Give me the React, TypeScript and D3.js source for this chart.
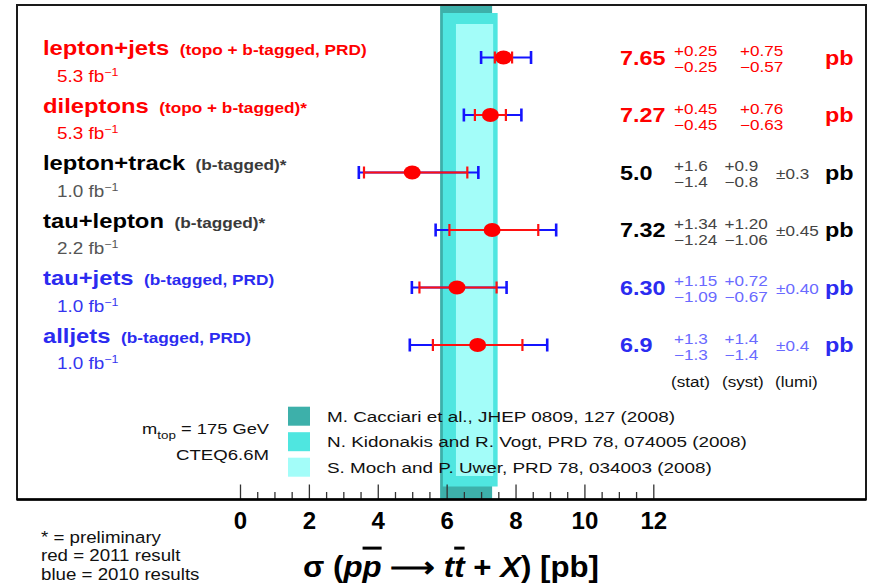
import { useEffect, useRef } from "react";
import * as d3 from "d3";

// channels, top to bottom
const channels = ["lepton+jets", "dileptons", "lepton+track", "tau+lepton", "tau+jets", "alljets"];
const channelNotes = [
  "(topo + b-tagged, PRD)",
  "(topo + b-tagged)*",
  "(b-tagged)*",
  "(b-tagged)*",
  "(b-tagged, PRD)",
  "(b-tagged, PRD)",
];
const lumis = ["5.3", "5.3", "1.0", "2.2", "1.0", "1.0"];
const release = ["2011", "2011", "other", "other", "2010", "2010"];

// measured cross sections [pb]
const xsec = [7.65, 7.27, 5.0, 7.32, 6.3, 6.9];
const xsecLabels = ["7.65", "7.27", "5.0", "7.32", "6.30", "6.9"];
const statUp = [0.25, 0.45, 1.6, 1.34, 1.15, 1.3];
const statDown = [0.25, 0.45, 1.4, 1.24, 1.09, 1.3];
const statUpLabels = ["0.25", "0.45", "1.6", "1.34", "1.15", "1.3"];
const statDownLabels = ["0.25", "0.45", "1.4", "1.24", "1.09", "1.3"];
const systUpLabels = ["0.75", "0.76", "0.9", "1.20", "0.72", "1.4"];
const systDownLabels = ["0.57", "0.63", "0.8", "1.06", "0.67", "1.4"];
const lumiLabels = ["", "", "0.3", "0.45", "0.40", "0.4"];
// total uncertainty bar ends
const totalLo = [7.0, 6.5, 3.45, 5.68, 4.99, 4.93];
const totalHi = [8.45, 8.17, 6.92, 9.18, 7.74, 8.92];

// theory predictions
const theoryLabels = [
  "M. Cacciari et al., JHEP 0809, 127 (2008)",
  "N. Kidonakis and R. Vogt, PRD 78, 074005 (2008)",
  "S. Moch and P. Uwer, PRD 78, 034003 (2008)",
];
const theoryLo = [5.81, 5.89, 6.27];
const theoryHi = [7.32, 7.48, 7.35];

const majorTicks = [0, 2, 4, 6, 8, 10, 12];
const minorTicks = [0.5, 1, 1.5, 2.5, 3, 3.5, 4.5, 5, 5.5, 6.5, 7, 7.5, 8.5, 9, 9.5, 10.5, 11, 11.5];

const notes = ["* = preliminary", "red = 2011 result", "blue = 2010 results"];

const palette = {
  "2011": { main: "#ff0000", note: "#ff0000", lumi: "#ff0000", small: "#ff0000" },
  other: { main: "#000000", note: "#3a3a3a", lumi: "#555555", small: "#444444" },
  "2010": { main: "#2b2bf0", note: "#2b2bf0", lumi: "#3535f0", small: "#6a6aff" },
};
const bandColors = ["#3db0aa", "#4fe6e0", "#a3fdf9"];

export default function App() {
  const svgRef = useRef<SVGSVGElement>(null);

  useEffect(() => {
    const svg = d3.select(svgRef.current);
    svg.selectAll("*").remove();

    const frame = { left: 17, top: 5, right: 866, bottom: 499.5 };
    const font = "'Liberation Sans', Arial, Helvetica, sans-serif";

    const x = d3.scaleLinear().domain([0, 12]).range([240, 653.3]);
    const y = d3.scalePoint<string>().domain(channels).range([57.5, 345]);

    const addText = (
      g: any,
      px: number,
      py: number,
      str: string,
      size: number,
      weight: string,
      fill: string,
      sx: number,
      anchor = "start"
    ) =>
      g
        .append("text")
        .attr("transform", `translate(${px},${py}) scale(${sx},1)`)
        .attr("font-family", font)
        .attr("font-size", size)
        .attr("font-weight", weight)
        .attr("fill", fill)
        .attr("text-anchor", anchor)
        .text(str);

    // white background
    svg.append("rect").attr("width", 877).attr("height", 584).attr("fill", "#fff");

    // theory bands
    const insets = [
      { top: 0, bottom: 0 },
      { top: 8, bottom: 13 },
      { top: 19, bottom: 23.5 },
    ];
    theoryLo.forEach((lo, i) => {
      svg
        .append("rect")
        .attr("x", x(lo))
        .attr("width", x(theoryHi[i]) - x(lo))
        .attr("y", frame.top + insets[i].top)
        .attr("height", frame.bottom - insets[i].bottom - frame.top - insets[i].top)
        .attr("fill", bandColors[i]);
    });

    // legend
    const legend = svg.append("g").attr("transform", "translate(288,406.7)");
    theoryLabels.forEach((t, i) => {
      legend
        .append("rect")
        .attr("x", 0)
        .attr("y", i * 25.5)
        .attr("width", 22)
        .attr("height", 19)
        .attr("fill", bandColors[i]);
      addText(legend, 39, i * 25.5 + 15, t, 15.5, "normal", "#111", 1.22);
    });

    const mtop = svg
      .append("text")
      .attr("transform", "translate(269,434) scale(1.22,1)")
      .attr("font-family", font)
      .attr("font-size", 15)
      .attr("fill", "#111")
      .attr("text-anchor", "end");
    mtop.append("tspan").text("m");
    mtop.append("tspan").attr("font-size", 11).attr("dy", 5).text("top");
    mtop.append("tspan").attr("dy", -5).text(" = 175 GeV");
    addText(svg, 269, 460, "CTEQ6.6M", 15, "normal", "#111", 1.24, "end");

    // measurements
    channels.forEach((c, i) => {
      const cy = y(c) as number;
      const col = palette[release[i] as keyof typeof palette];

      // total uncertainty (blue)
      svg
        .append("line")
        .attr("x1", x(totalLo[i]))
        .attr("x2", x(totalHi[i]))
        .attr("y1", cy)
        .attr("y2", cy)
        .attr("stroke", "#1414ff")
        .attr("stroke-width", 2.2);
      [totalLo[i], totalHi[i]].forEach((v) => {
        svg
          .append("line")
          .attr("x1", x(v))
          .attr("x2", x(v))
          .attr("y1", cy - 6.5)
          .attr("y2", cy + 6.5)
          .attr("stroke", "#1414ff")
          .attr("stroke-width", 2.6);
      });

      // statistical (red)
      const sLo = xsec[i] - statDown[i];
      const sHi = xsec[i] + statUp[i];
      svg
        .append("line")
        .attr("x1", x(sLo))
        .attr("x2", x(sHi))
        .attr("y1", cy)
        .attr("y2", cy)
        .attr("stroke", "#ff1010")
        .attr("stroke-width", 2);
      [sLo, sHi].forEach((v) => {
        svg
          .append("line")
          .attr("x1", x(v))
          .attr("x2", x(v))
          .attr("y1", cy - 6)
          .attr("y2", cy + 6)
          .attr("stroke", "#ff1010")
          .attr("stroke-width", 2.2);
      });

      svg
        .append("ellipse")
        .attr("cx", x(xsec[i]))
        .attr("cy", cy)
        .attr("rx", 8.5)
        .attr("ry", 7)
        .attr("fill", "#ff0000");

      // left labels
      const lab = addText(svg, 43, cy - 2.5, c, 19.5, "bold", col.main, 1.22);
      const w = (lab.node() as SVGTextElement).getComputedTextLength() * 1.22;
      addText(svg, 43 + w + 10.5, cy - 2.5, channelNotes[i], 14, "bold", col.note, 1.23);
      const lt = svg
        .append("text")
        .attr("transform", `translate(57,${cy + 24}) scale(1.18,1)`)
        .attr("font-family", font)
        .attr("font-size", 16)
        .attr("fill", col.lumi);
      lt.append("tspan").text(`${lumis[i]} fb`);
      lt.append("tspan").attr("font-size", 10.5).attr("dy", -6).text("\u22121");

      // right-hand numbers
      const base = cy + 7.3;
      addText(svg, 620, base, xsecLabels[i], 20, "bold", col.main, 1.17);
      addText(svg, 674, base - 8.5, `+${statUpLabels[i]}`, 14.5, "normal", col.small, 1.18);
      addText(svg, 674, base + 7.5, `\u2212${statDownLabels[i]}`, 14.5, "normal", col.small, 1.18);
      const sx = lumiLabels[i] ? 724.5 : 740;
      addText(svg, sx, base - 8.5, `+${systUpLabels[i]}`, 14.5, "normal", col.small, 1.18);
      addText(svg, sx, base + 7.5, `\u2212${systDownLabels[i]}`, 14.5, "normal", col.small, 1.18);
      if (lumiLabels[i]) {
        addText(svg, 776, base - 1, `\u00b1${lumiLabels[i]}`, 14.5, "normal", col.small, 1.18);
      }
      addText(svg, 825, base, "pb", 20, "bold", col.main, 1.17);
    });

    const last = y(channels[channels.length - 1]) as number;
    ["(stat)", "(syst)", "(lumi)"].forEach((t, i) => {
      addText(svg, [671, 722, 775][i], last + 42, t, 14.5, "normal", "#111", 1.18);
    });

    // x axis: ticks point up from the frame bottom
    const axisMajor = svg
      .append("g")
      .attr("transform", `translate(0,${frame.bottom})`)
      .call(
        d3
          .axisBottom(x)
          .tickValues(majorTicks)
          .tickSize(-15)
          .tickPadding(12.5)
          .tickFormat(d3.format("d"))
      );
    axisMajor.select(".domain").remove();
    axisMajor
      .selectAll("text")
      .attr("font-family", font)
      .attr("font-size", 24)
      .attr("font-weight", "bold")
      .attr("fill", "#000");
    axisMajor.selectAll("line").attr("stroke", "#333").attr("stroke-width", 1.3);

    const axisMinor = svg
      .append("g")
      .attr("transform", `translate(0,${frame.bottom})`)
      .call(d3.axisBottom(x).tickValues(minorTicks).tickSize(-7.5).tickFormat(() => ""));
    axisMinor.select(".domain").remove();
    axisMinor.selectAll("line").attr("stroke", "#333").attr("stroke-width", 1.3);

    // frame
    svg
      .append("rect")
      .attr("x", frame.left)
      .attr("y", frame.top)
      .attr("width", frame.right - frame.left)
      .attr("height", frame.bottom - frame.top)
      .attr("fill", "none")
      .attr("stroke", "#1a1a1a")
      .attr("stroke-width", 2);
    svg
      .append("line")
      .attr("x1", frame.left)
      .attr("x2", frame.right)
      .attr("y1", frame.bottom)
      .attr("y2", frame.bottom)
      .attr("stroke", "#000")
      .attr("stroke-width", 2.6);

    // axis title
    const title = svg
      .append("text")
      .attr("transform", "translate(451,577) scale(1.04,1)")
      .attr("font-family", font)
      .attr("font-size", 30)
      .attr("font-weight", "bold")
      .attr("text-anchor", "middle")
      .attr("fill", "#000");
    const parts = [
      { t: "\u03c3 (", it: false, bar: false },
      { t: "p", it: true, bar: false },
      { t: "p", it: true, bar: true },
      { t: " \u27f6 ", it: false, bar: false },
      { t: "t", it: true, bar: false },
      { t: "t", it: true, bar: true },
      { t: " + ", it: false, bar: false },
      { t: "X", it: true, bar: false },
      { t: ") [pb]", it: false, bar: false },
    ];
    parts.forEach((p) => {
      title
        .append("tspan")
        .attr("font-style", p.it ? "italic" : "normal")
        .attr("text-decoration", p.bar ? "overline" : "none")
        .text(p.t);
    });

    // footnotes
    notes.forEach((n, i) => {
      addText(svg, 41, 542.7 + i * 18.7, n, 17, "normal", "#111", 1.1);
    });
  }, []);

  return (
    <svg
      ref={svgRef}
      width={877}
      height={584}
      viewBox="0 0 877 584"
      style={{ position: "fixed", left: 0, top: 0 }}
    />
  );
}
